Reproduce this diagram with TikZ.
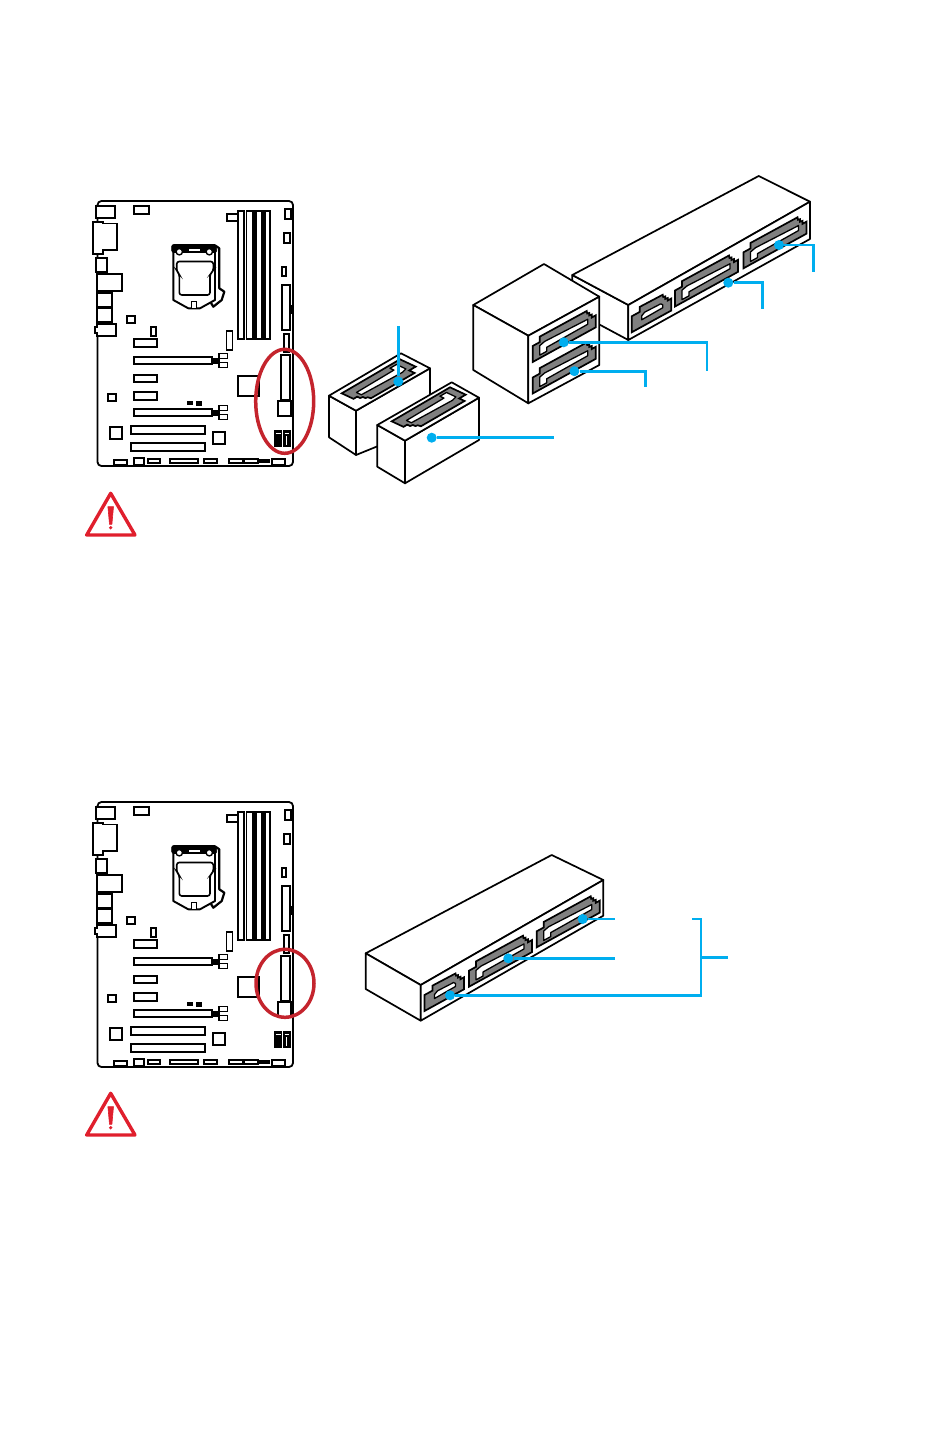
\documentclass[tikz,border=0pt]{standalone}

\definecolor{msiblue}{HTML}{00AEEF}
\definecolor{msired}{HTML}{C4242D}
\definecolor{warnred}{HTML}{E01F2D}
\definecolor{portgray}{HTML}{808080}

\tikzset{
  part/.style={rectangle, draw=black, line width=1.9pt, fill=white},
  darkpart/.style={draw=black, line width=.6pt, fill=black},
  face/.style={draw=black, line width=1.7pt, fill=white, line join=round},
  portbody/.style={draw=black, line width=1.7pt, fill=portgray, line join=miter},
  portslot/.style={draw=black, line width=1.3pt, fill=white, line join=round},
  frontport/.style={x={(1pt,.55pt)}, y={(0pt,1pt)}},
  topport/.style={x={(-.925pt,-.54pt)}, y={(.98pt,-.46pt)}},
  leader/.style={draw=msiblue, line width=2.8pt},
  bluedot/.style={circle, fill=msiblue, inner sep=0pt, minimum size=10pt},
  ringmark/.style={draw=msired, line width=3.5pt},
  warnline/.style={draw=warnred, line width=3.4pt, line join=round}
}

\newcommand{\sataport}[3]{
\begin{scope}[shift={(#1,#2)},#3]
\draw [portbody] (0,0) -- (0,16) -- (7,16) -- (7,21.5) -- (54,21.3) -- (54.5,18.5) -- (56.5,18) -- (56.5,15.5) -- (59,15) -- (59,12) -- (63,12) -- (63,0) -- cycle;
\draw [portslot] (7,3) -- (7,12.5) -- (12,14) -- (55,12.5) -- (55,7.5) -- (14,7) -- (14,3) -- cycle;
\end{scope}
}

\newcommand{\sataportshort}[3]{
\begin{scope}[shift={(#1,#2)},#3]
\draw [portbody] (0,0) -- (0,16) -- (8,16) -- (8,21) -- (31,20.5) -- (31.5,18) -- (33.5,17.5) -- (33.5,15) -- (36,14.5) -- (36,12) -- (39.5,12) -- (39.5,0) -- cycle;
\draw [portslot] (10,7) -- (10,11) -- (13,13) -- (29,12.5) -- (31,10.5) -- (31,7.5) -- cycle;
\end{scope}
}

\newcommand{\mainboard}{
\draw [draw=black, line width=1.8pt, rounded corners=4pt] (97.5,201) rectangle (293,466);

\draw [part] (95.7,205.7) rectangle (115,217.7);
\draw [part] (92.7,221.7) -- (103,221.7) -- (103,223.5) -- (117.3,223.5) -- (117.3,250) -- (103,250) -- (103,254.3) -- (92.7,254.3) -- cycle;
\draw [part] (95.7,258.3) rectangle (107.3,272.3);
\draw [part] (97.3,274) rectangle (121.7,291);
\draw [part] (97.3,293.3) rectangle (112.3,306.7);
\draw [part] (97.3,308.3) rectangle (112.3,321.7);
\draw [part] (97,324.3) -- (116,324.3) -- (116,335.7) -- (97,335.7) -- (97,333) -- (95,333) -- (95,327) -- (97,327) -- cycle;

\draw [part] (126.7,316) rectangle (135,322.7);
\draw [part] (134,205.7) rectangle (149,213.7);
\draw [part] (150.7,326.7) rectangle (156,335.7);
\draw [part] (134,339) rectangle (157,347);
\draw [part] (134,375) rectangle (157,382.3);
\draw [part] (134,391.7) rectangle (157,400);
\draw [part] (107.7,393.7) rectangle (115.7,401);

\draw [part] (134,356.7) rectangle (212,364);
\draw [darkpart] (212,358) rectangle (219,363);
\draw [part] (219,353.5) rectangle (227.5,358.5);
\draw [part] (219,362.5) rectangle (227.5,367.5);

\draw [part] (134,408.7) rectangle (212,416);
\draw [darkpart] (212,410) rectangle (219,415);
\draw [part] (219,405.5) rectangle (227.5,410.5);
\draw [part] (219,414.5) rectangle (227.5,419.5);

\draw [darkpart] (187.3,401.3) rectangle (192.3,404.3);
\draw [darkpart] (196.3,401.3) rectangle (201.7,405.3);

\draw [part] (110,426.7) rectangle (121.7,439);
\draw [part] (130.7,426) rectangle (205,434.3);
\draw [part] (130.7,442.7) rectangle (205,451.3);
\draw [part] (212.7,432) rectangle (225,444.3);

\draw [part] (114.3,460) rectangle (127.3,464.7);
\draw [part] (134,457.7) rectangle (143.7,464.7);
\draw [part] (147.7,458.7) rectangle (160.3,463.3);
\draw [part] (169.7,458.7) rectangle (198.3,463.3);
\draw [part] (203.7,458.7) rectangle (217.3,463.3);
\draw [part] (229.3,458.7) rectangle (242.7,463.3);
\draw [part] (244.3,458.7) rectangle (257.7,463.3);
\draw [darkpart] (259,459.3) rectangle (269.7,462.7);
\draw [part] (272.3,458.7) rectangle (285,464.7);

\draw [part] (226.7,214.3) rectangle (237.7,221);
\draw [part] (238,210.7) rectangle (244.3,339);
\draw [part] (246.5,210.7) rectangle (270,339);
\draw [darkpart] (252,210.7) rectangle (256,339);
\draw [darkpart] (261,210.7) rectangle (265,339);
\draw [part] (226.5,331) rectangle (232.5,350);

\draw [part] (285,209.3) rectangle (291,219.3);
\draw [part] (284,233.3) rectangle (289.7,242.7);
\draw [part] (281.7,266.7) rectangle (286.3,276);
\draw [part] (281.7,284.7) rectangle (290,330);
\draw [darkpart] (290.7,305) rectangle (293,313);
\draw [part] (284,334) rectangle (289.3,352);
\draw [part] (281,354.7) rectangle (290.3,400);
\draw [part] (277.7,400.7) rectangle (290.7,416);
\draw [part] (238.3,375.7) rectangle (259,396);

\draw [darkpart] (274.3,430.7) rectangle (281.7,446.7);
\draw [darkpart] (283.3,430.7) rectangle (290,446.7);
\draw [draw=white, line width=.8pt] (275.5,433.5) -- (280.5,433.5);
\draw [draw=white, line width=.8pt] (284.5,433.5) -- (288.8,433.5);
\draw [draw=white, line width=1pt] (286.7,436) -- (286.7,444.5);

\draw [part, line join=round] (173.3,250) -- (173.3,300) -- (188.3,308.3) -- (200,308.3) -- (215,300) -- (215,250);
\draw [draw=black, line width=2.2pt, line join=round] (216,246) -- (219.3,248.3) -- (219.3,288.3) -- (224.3,291.7) -- (221.7,300) -- (213.3,306.7) -- (211,303);
\draw [darkpart, rounded corners=2pt] (171.7,244.5) rectangle (216.7,252.5);
\draw [draw=white, line width=1.2pt] (189,250) -- (200,250);
\draw [part, line width=1.4pt] (179.3,251.7) circle (3.2pt);
\draw [part, line width=1.4pt] (209.3,251.7) circle (3.2pt);
\draw [part, line width=1.5pt] (191.7,301.7) rectangle (196.7,308.3);
\draw [draw=black, line width=1.6pt, rounded corners=2.5pt] (176.7,261.5) -- (213.3,261.5) -- (213.3,271) -- (210,274) -- (210,295) -- (179.3,295) -- (179.3,274) -- (176.7,271) -- cycle;
}

\newcommand{\warnsign}{
\draw [warnline] (110.7,493.3) -- (135,535) -- (86.7,535) -- cycle;
\draw [fill=warnred, draw=warnred, line width=.6pt, line join=round] (107.9,506.7) -- (113.5,506.7) -- (111.9,524.3) -- (109.5,524.3) -- cycle;
\draw [fill=warnred, draw=none] (110.7,527.7) circle (1.8pt);
}

\begin{document}
\begin{tikzpicture}[x=1pt, y=-1pt]
\useasboundingbox (0,0) rectangle (950,1456);

\mainboard
\draw [ringmark] (284.7,401.3) ellipse (29pt and 52pt);
\warnsign

\draw [face] (572.3,275) -- (572.3,310) -- (628.3,340) -- (628.3,305) -- cycle;
\draw [face] (758.7,176) -- (810,201.7) -- (628.3,305) -- (572.3,275) -- cycle;
\draw [face] (810,201.7) -- (810,239) -- (628.3,340) -- (628.3,305) -- cycle;
\sataportshort{631.7}{332.3}{frontport}
\sataport{675}{306.5}{frontport}
\sataport{743.5}{268.3}{frontport}

\draw [face] (544,264) -- (599.3,296.7) -- (528.3,335.7) -- (473.3,305) -- cycle;
\draw [face] (473.3,305) -- (473.3,370) -- (528.3,403.3) -- (528.3,335.7) -- cycle;
\draw [face] (599.3,296.7) -- (599.3,365) -- (528.3,403.3) -- (528.3,335.7) -- cycle;
\sataport{532.7}{393.5}{frontport}
\sataport{532.7}{362}{frontport}

\draw [face] (329,395.7) -- (329,437.3) -- (356,455) -- (356,410.7) -- cycle;
\draw [face] (430,368.3) -- (430,425) -- (356,455) -- (356,410.7) -- cycle;
\draw [face] (401,353.3) -- (430,368.3) -- (356,410.7) -- (329,395.7) -- cycle;
\sataport{400}{359.3}{topport}

\draw [face] (377.3,425) -- (377.3,466.7) -- (405,483.3) -- (405,440.7) -- cycle;
\draw [face] (479,397.7) -- (479,440) -- (405,483.3) -- (405,440.7) -- cycle;
\draw [face] (451.7,382.3) -- (479,397.7) -- (405,440.7) -- (377.3,425) -- cycle;
\sataport{450}{387.3}{topport}

\node [bluedot] (DA) at (398.3,381.5) {};
\node [bluedot] (DB) at (431.7,437.7) {};
\node [bluedot] (DC) at (563.8,342.3) {};
\node [bluedot] (DD) at (574.4,371.2) {};
\node [bluedot] (DE) at (728.3,282.7) {};
\node [bluedot] (DF) at (779,245) {};
\coordinate (EA) at (398.3,326);
\coordinate (EB) at (554,437.7);
\coordinate (EC) at (707,371);
\coordinate (ED) at (645.7,387);
\coordinate (EE) at (762.7,309.3);
\coordinate (EF) at (813.7,271.7);

\draw [leader] (DA) to (EA);
\draw [leader] (DB) to (EB);
\draw [leader] (DC) -| (EC);
\draw [leader] (DD) -| (ED);
\draw [leader] (DE) -| (EE);
\draw [leader] (DF) -| (EF);

\begin{scope}[shift={(0,601)}]
\mainboard
\end{scope}
\draw [ringmark] (285,983.3) ellipse (29pt and 34pt);
\begin{scope}[shift={(0,600)}]
\warnsign
\end{scope}

\draw [face] (551.7,855) -- (603.3,880) -- (420.7,985) -- (365.7,953.3) -- cycle;
\draw [face] (365.7,953.3) -- (365.7,989) -- (420.7,1020.7) -- (420.7,985) -- cycle;
\draw [face] (603.3,880) -- (603.3,915.7) -- (420.7,1020.7) -- (420.7,985) -- cycle;
\sataportshort{424.5}{1011}{frontport}
\sataport{469}{986.7}{frontport}
\sataport{536.7}{947.3}{frontport}

\node [bluedot] (DG) at (582.7,919) {};
\node [bluedot] (DH) at (508.3,958.3) {};
\node [bluedot] (DI) at (450,995.3) {};
\coordinate (EG) at (615.3,919);
\coordinate (EH) at (615.3,958.3);
\coordinate (BT) at (692.3,919);
\coordinate (BC) at (701,919);
\coordinate (BJ) at (701,957.7);
\coordinate (BR) at (727.7,957.7);

\draw [leader] (DG) to (EG);
\draw [leader] (DH) to (EH);
\draw [leader] (DI) -| (BC) -- (BT);
\draw [leader] (BJ) to (BR);

\end{tikzpicture}
\end{document}
